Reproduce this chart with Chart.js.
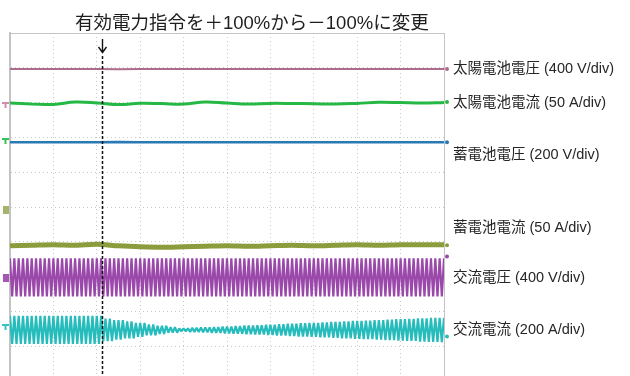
<!DOCTYPE html>
<html>
<head>
<meta charset="utf-8">
<script src="https://cdn.jsdelivr.net/npm/chart.js@4/dist/chart.umd.min.js"></script>
<style>
  html, body { margin: 0; padding: 0; background: #fff; overflow: hidden; }
  #wrap { position: relative; width: 630px; height: 381px; }
</style>
</head>
<body>
<div id="wrap"><canvas id="scope"></canvas></div>
<script>
// Graticule: 10 horizontal divisions (time), vertical values in divisions from the bottom edge.
const halfDivTimes = [0, 0.5, 1, 1.5, 2, 2.5, 3, 3.5, 4, 4.5, 5, 5.5, 6, 6.5, 7, 7.5, 8, 8.5, 9, 9.5, 10];

// DC traces (div)
const solarVoltage = [8.964, 8.962, 8.966, 8.963, 8.965, 8.961, 8.964, 8.966, 8.963, 8.962, 8.965,
  8.964, 8.963, 8.966, 8.962, 8.964, 8.965, 8.963, 8.964, 8.962, 8.964];
const solarCurrent = [7.986, 7.963, 7.948, 8.014, 7.991, 7.942, 7.980, 7.971, 7.957, 8.020, 7.986,
  7.957, 7.977, 7.974, 7.968, 7.957, 7.977, 8.009, 8.000, 7.986, 8.006];
const batteryVoltage = [6.863, 6.861, 6.864, 6.862, 6.863, 6.865, 6.862, 6.863, 6.861, 6.864, 6.863,
  6.862, 6.864, 6.863, 6.861, 6.863, 6.864, 6.862, 6.863, 6.862, 6.863];
const batteryCurrent = [3.885, 3.899, 3.914, 3.899, 3.928, 3.885, 3.856, 3.842, 3.856, 3.871, 3.885,
  3.871, 3.885, 3.899, 3.885, 3.899, 3.914, 3.899, 3.914, 3.914, 3.914];

// AC traces: trace centre and peak amplitude (div)
const acCyclesPerDiv = 10;
const acVoltageCenter = 2.978;
const acVoltagePeak = [0.55, 0.55, 0.55, 0.55, 0.55, 0.55, 0.55, 0.55, 0.55, 0.55, 0.55,
  0.55, 0.55, 0.55, 0.55, 0.55, 0.55, 0.55, 0.55, 0.55, 0.55];
const acCurrentCenter = 1.468;
const acCurrentPeak = [0.405, 0.405, 0.405, 0.405, 0.405, 0.405, 0.405, 0.405, 0.405,
  0.325, 0.282, 0.242, 0.201, 0.158, 0.118, 0.078, 0.043,
  0.058, 0.072, 0.083, 0.098, 0.109, 0.124, 0.135, 0.150,
  0.164, 0.176, 0.190, 0.201, 0.216, 0.227, 0.242, 0.256,
  0.268, 0.282, 0.294, 0.308, 0.319, 0.334, 0.345, 0.350];

// Moment the active-power command is switched (div)
const triggerTime = 2.12;

const titleText = '有効電力指令を＋100%から－100%に変更';
const traceLabels = ['太陽電池電圧 (400 V/div)', '太陽電池電流 (50 A/div)', '蓄電池電圧 (200 V/div)',
  '蓄電池電流 (50 A/div)', '交流電圧 (400 V/div)', '交流電流 (200 A/div)'];

// ---- build datasets ----
function pairs(times, values) {
  return times.map((t, i) => ({ x: t, y: values[i] }));
}
// AC waveform drawn through its successive half-cycle peaks
function acPeaks(center, peaks) {
  const step = 10 / (peaks.length - 1);
  const pts = [];
  const halfCycles = 10 * acCyclesPerDiv * 2;
  for (let k = 0; k <= halfCycles; k++) {
    const t = k / (acCyclesPerDiv * 2);
    const a = peaks[Math.round(t / step)];
    pts.push({ x: t, y: center + (k % 2 === 0 ? a : -a) });
  }
  return pts;
}

const colors = {
  solarV: '#ae6c8c',
  solarI: '#25b845',
  battV: '#2a78b4',
  battI: '#8b9c3c',
  acV: '#9a48aa',
  acI: '#27bcbc'
};

const labelFont = '"Liberation Sans", "Noto Sans CJK JP", sans-serif';
const labelPos = [8.964, 7.986, 6.489, 4.388, 2.950, 1.453];
const rightDots = [
  { y: 8.964, c: colors.solarV }, { y: 8.02, c: colors.solarI }, { y: 6.863, c: colors.battV },
  { y: 3.90, c: colors.battI }, { y: 3.58, c: colors.acV }, { y: 1.28, c: colors.acI }
];
const leftMarks = [
  { y: 7.93, c: '#d48cac', s: 'T' }, { y: 6.91, c: '#35c05a', s: 'T' }, { y: 4.90, c: '#a4b46a', s: 'B' },
  { y: 2.95, c: '#a458b4', s: 'B' }, { y: 1.54, c: '#35c4c4', s: 'T' }
];

const scopeDecor = {
  id: 'scopeDecor',
  beforeDatasetsDraw(chart) {
    const { ctx, chartArea: a } = chart;
    ctx.save();
    ctx.strokeStyle = '#c4c4c4';
    ctx.lineWidth = 1;
    ctx.beginPath();
    ctx.moveTo(a.left, a.top + 0.5); ctx.lineTo(a.right, a.top + 0.5);
    ctx.moveTo(a.right + 0.5, a.top); ctx.lineTo(a.right + 0.5, a.bottom);
    ctx.stroke();
    ctx.restore();
  },
  afterDatasetsDraw(chart) {
    const { ctx, chartArea: a, scales: { x, y } } = chart;
    ctx.save();
    // trigger marker
    const tx = Math.round(x.getPixelForValue(triggerTime)) + 0.5;
    ctx.strokeStyle = '#111';
    ctx.lineWidth = 1.5;
    ctx.setLineDash([3, 2]);
    ctx.beginPath();
    ctx.moveTo(tx, 56); ctx.lineTo(tx, a.bottom);
    ctx.stroke();
    ctx.setLineDash([]);
    ctx.lineWidth = 1.4;
    ctx.beginPath();
    ctx.moveTo(tx, 39); ctx.lineTo(tx, 52);
    ctx.moveTo(tx - 4, 47); ctx.lineTo(tx, 52.5); ctx.lineTo(tx + 4, 47);
    ctx.stroke();

    // title
    ctx.fillStyle = '#1e1e1e';
    ctx.font = '18.5px ' + labelFont;
    ctx.textAlign = 'left';
    ctx.textBaseline = 'alphabetic';
    ctx.fillText(titleText, 75, 29);

    // right-hand dots and labels
    rightDots.forEach(d => {
      ctx.fillStyle = d.c;
      ctx.beginPath();
      ctx.arc(a.right + 3, y.getPixelForValue(d.y), 2, 0, Math.PI * 2);
      ctx.fill();
    });
    ctx.fillStyle = '#262626';
    ctx.font = '14.5px ' + labelFont;
    ctx.textBaseline = 'middle';
    traceLabels.forEach((t, i) => {
      ctx.fillText(t, 453, y.getPixelForValue(labelPos[i]));
    });

    // channel reference marks on the left edge
    leftMarks.forEach(m => {
      const py = Math.round(y.getPixelForValue(m.y));
      ctx.fillStyle = m.c;
      if (m.s === 'T') {
        ctx.fillRect(2, py - 3, 7, 2);
        ctx.fillRect(4.5, py - 1, 2, 4);
      } else {
        ctx.fillRect(3, py - 4, 6, 8);
      }
    });
    ctx.restore();
  }
};

const lineDs = (data, color, width) => ({
  data, borderColor: color, borderWidth: width, pointRadius: 0, tension: 0, fill: false,
  borderJoinStyle: 'bevel'
});

new Chart(document.getElementById('scope'), {
  type: 'line',
  data: {
    datasets: [
      lineDs(pairs(halfDivTimes, solarVoltage), colors.solarV, 2),
      Object.assign(lineDs(pairs(halfDivTimes, solarCurrent), colors.solarI, 3), { tension: 0.4 }),
      lineDs(pairs(halfDivTimes, batteryVoltage), colors.battV, 2.5),
      Object.assign(lineDs(pairs(halfDivTimes, batteryCurrent), colors.battI, 5), { tension: 0.3 }),
      lineDs(acPeaks(acVoltageCenter, acVoltagePeak), colors.acV, 2.2),
      lineDs(acPeaks(acCurrentCenter, acCurrentPeak), colors.acI, 2.2)
    ]
  },
  options: {
    responsive: true,
    maintainAspectRatio: false,
    devicePixelRatio: 1,
    animation: false,
    events: [],
    layout: { padding: { left: 10, right: 186, top: 33, bottom: 0 } },
    plugins: { legend: { display: false }, tooltip: { enabled: false }, title: { display: false } },
    scales: {
      x: {
        type: 'linear', min: 0, max: 10,
        ticks: { display: false, stepSize: 1 },
        grid: { color: '#c8c8c8', lineWidth: 1, drawTicks: false },
        border: { display: false, dash: [1, 3] }
      },
      y: {
        type: 'linear', min: 0, max: 10,
        ticks: { display: false, stepSize: 1 },
        grid: { color: '#c8c8c8', lineWidth: 1, drawTicks: false },
        border: { display: true, color: '#c4c4c4', width: 2, dash: [1, 3] }
      }
    }
  },
  plugins: [scopeDecor]
});
</script>
</body>
</html>
